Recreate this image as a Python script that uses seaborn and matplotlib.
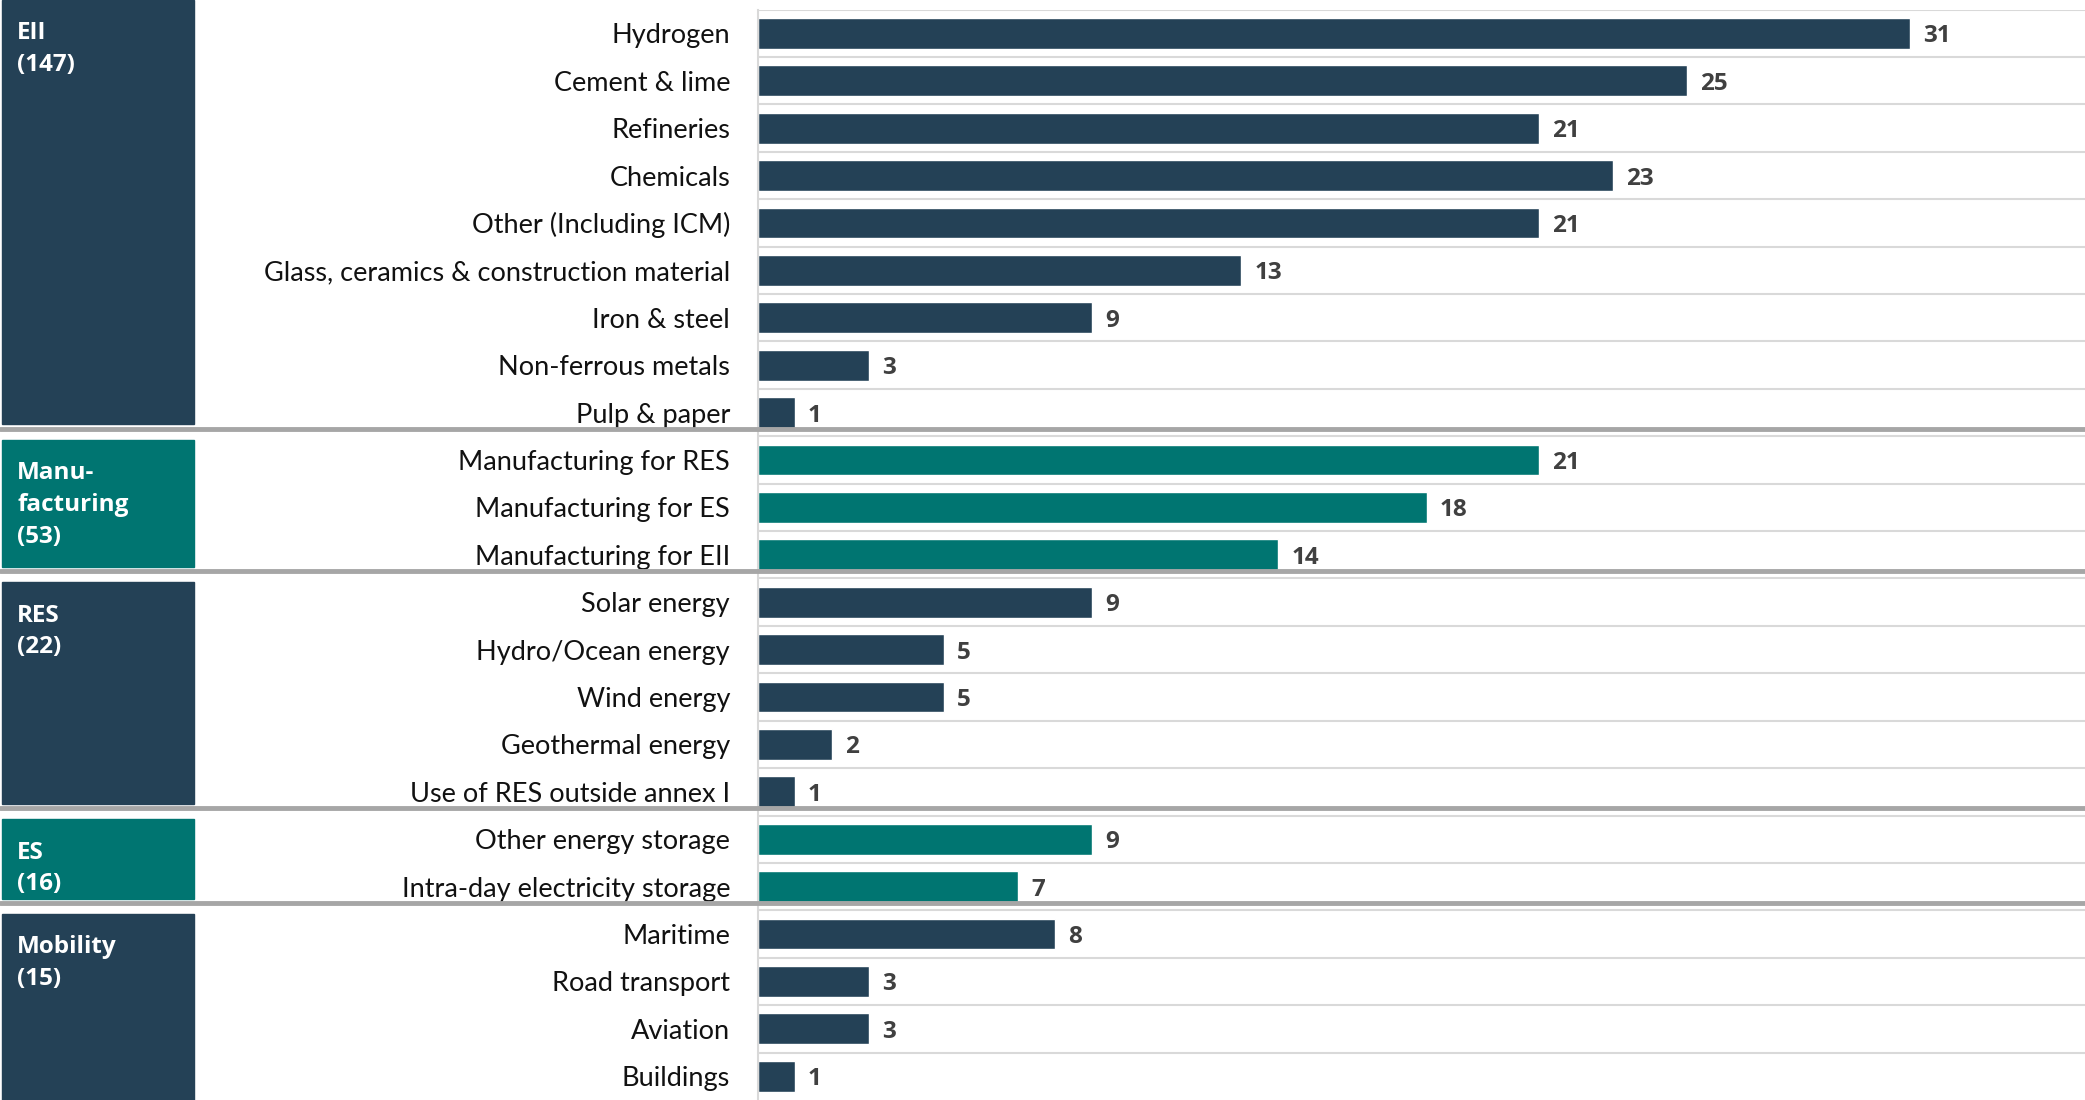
import matplotlib
matplotlib.use("Agg")
import matplotlib.pyplot as plt
import matplotlib.transforms as mtransforms
import seaborn as sns
import pandas as pd

# data
groups = ["EII\n(147)", "Manu-\nfacturing\n(53)", "RES\n(22)", "ES\n(16)", "Mobility\n(15)"]
group_sizes = [9, 3, 5, 2, 4]
group_colours = ["navy", "teal", "navy", "teal", "navy"]

categories = [
    "Hydrogen", "Cement & lime", "Refineries", "Chemicals", "Other (Including ICM)",
    "Glass, ceramics & construction material", "Iron & steel", "Non-ferrous metals", "Pulp & paper",
    "Manufacturing for RES", "Manufacturing for ES", "Manufacturing for EII",
    "Solar energy", "Hydro/Ocean energy", "Wind energy", "Geothermal energy", "Use of RES outside annex I",
    "Other energy storage", "Intra-day electricity storage",
    "Maritime", "Road transport", "Aviation", "Buildings",
]
values = [31, 25, 21, 23, 21, 13, 9, 3, 1,
          21, 18, 14,
          9, 5, 5, 2, 1,
          9, 7,
          8, 3, 3, 1]

palette = {"navy": "#244156", "teal": "#007571"}

colour_col = []
for g, n in zip(group_colours, group_sizes):
    colour_col += [g] * n

df = pd.DataFrame({"category": categories, "value": values, "colour": colour_col})

sns.set_theme(style="white")
plt.rcParams['font.family'] = ['Lato', 'DejaVu Sans']
bold_font = ['Open Sans', 'DejaVu Sans']

fig = plt.figure(figsize=(20.85, 11), dpi=100)
ax = fig.add_axes([0.3635, 0.0, 0.6365, 0.9913])

sns.barplot(data=df, x="value", y="category", hue="colour", palette=palette,
            dodge=False, width=0.65, saturation=1, legend=False, ax=ax, order=categories)

ax.set_xlim(0, 35.7)
ax.set_ylim(len(categories) - 0.5, -0.5)
ax.set_xlabel("")
ax.set_ylabel("")
ax.set_xticks([])
ax.tick_params(axis="y", length=0, pad=20, labelsize=19.5, labelcolor="#111111")
for s in ["top", "right", "bottom"]:
    ax.spines[s].set_visible(False)
ax.spines["left"].set_color("#d9d9d9")
ax.spines["left"].set_linewidth(1.5)

# light grid lines between rows
for b in range(len(categories)):
    ax.axhline(b - 0.5, color="#d9d9d9", lw=1.5, zorder=0)

# value labels
for i, v in enumerate(values):
    ax.text(v + 0.35, i, str(v), va="center_baseline", ha="left", fontsize=17.5,
            fontweight="bold", color="#404040", family=bold_font)

# group separators and boxes on the left
trans = mtransforms.blended_transform_factory(fig.transFigure, ax.transData)
start = 0
for k, (name, n, col) in enumerate(zip(groups, group_sizes, group_colours)):
    b_top = start - 0.5
    b_bot = start + n - 0.5
    if k > 0:
        ax.plot([0, 1], [b_top - 0.15, b_top - 0.15], transform=trans, color="#a6a6a6",
                lw=3.5, clip_on=False, zorder=5)
        top = b_top + 0.08
    else:
        top = -0.7
    if k < len(groups) - 1:
        bot = b_bot - 0.25
    else:
        bot = b_bot + 0.1
    rect = plt.Rectangle((0.001, top), 0.092, bot - top,
                         transform=trans, color=palette[col], clip_on=False, zorder=4)
    ax.add_patch(rect)
    ax.text(0.0083, top + 0.45, name, transform=trans, ha="left", va="top",
            fontsize=17.5, fontweight="bold", color="white", linespacing=1.42,
            family=bold_font, zorder=6)
    start += n

fig.savefig("out.png", dpi=100)
